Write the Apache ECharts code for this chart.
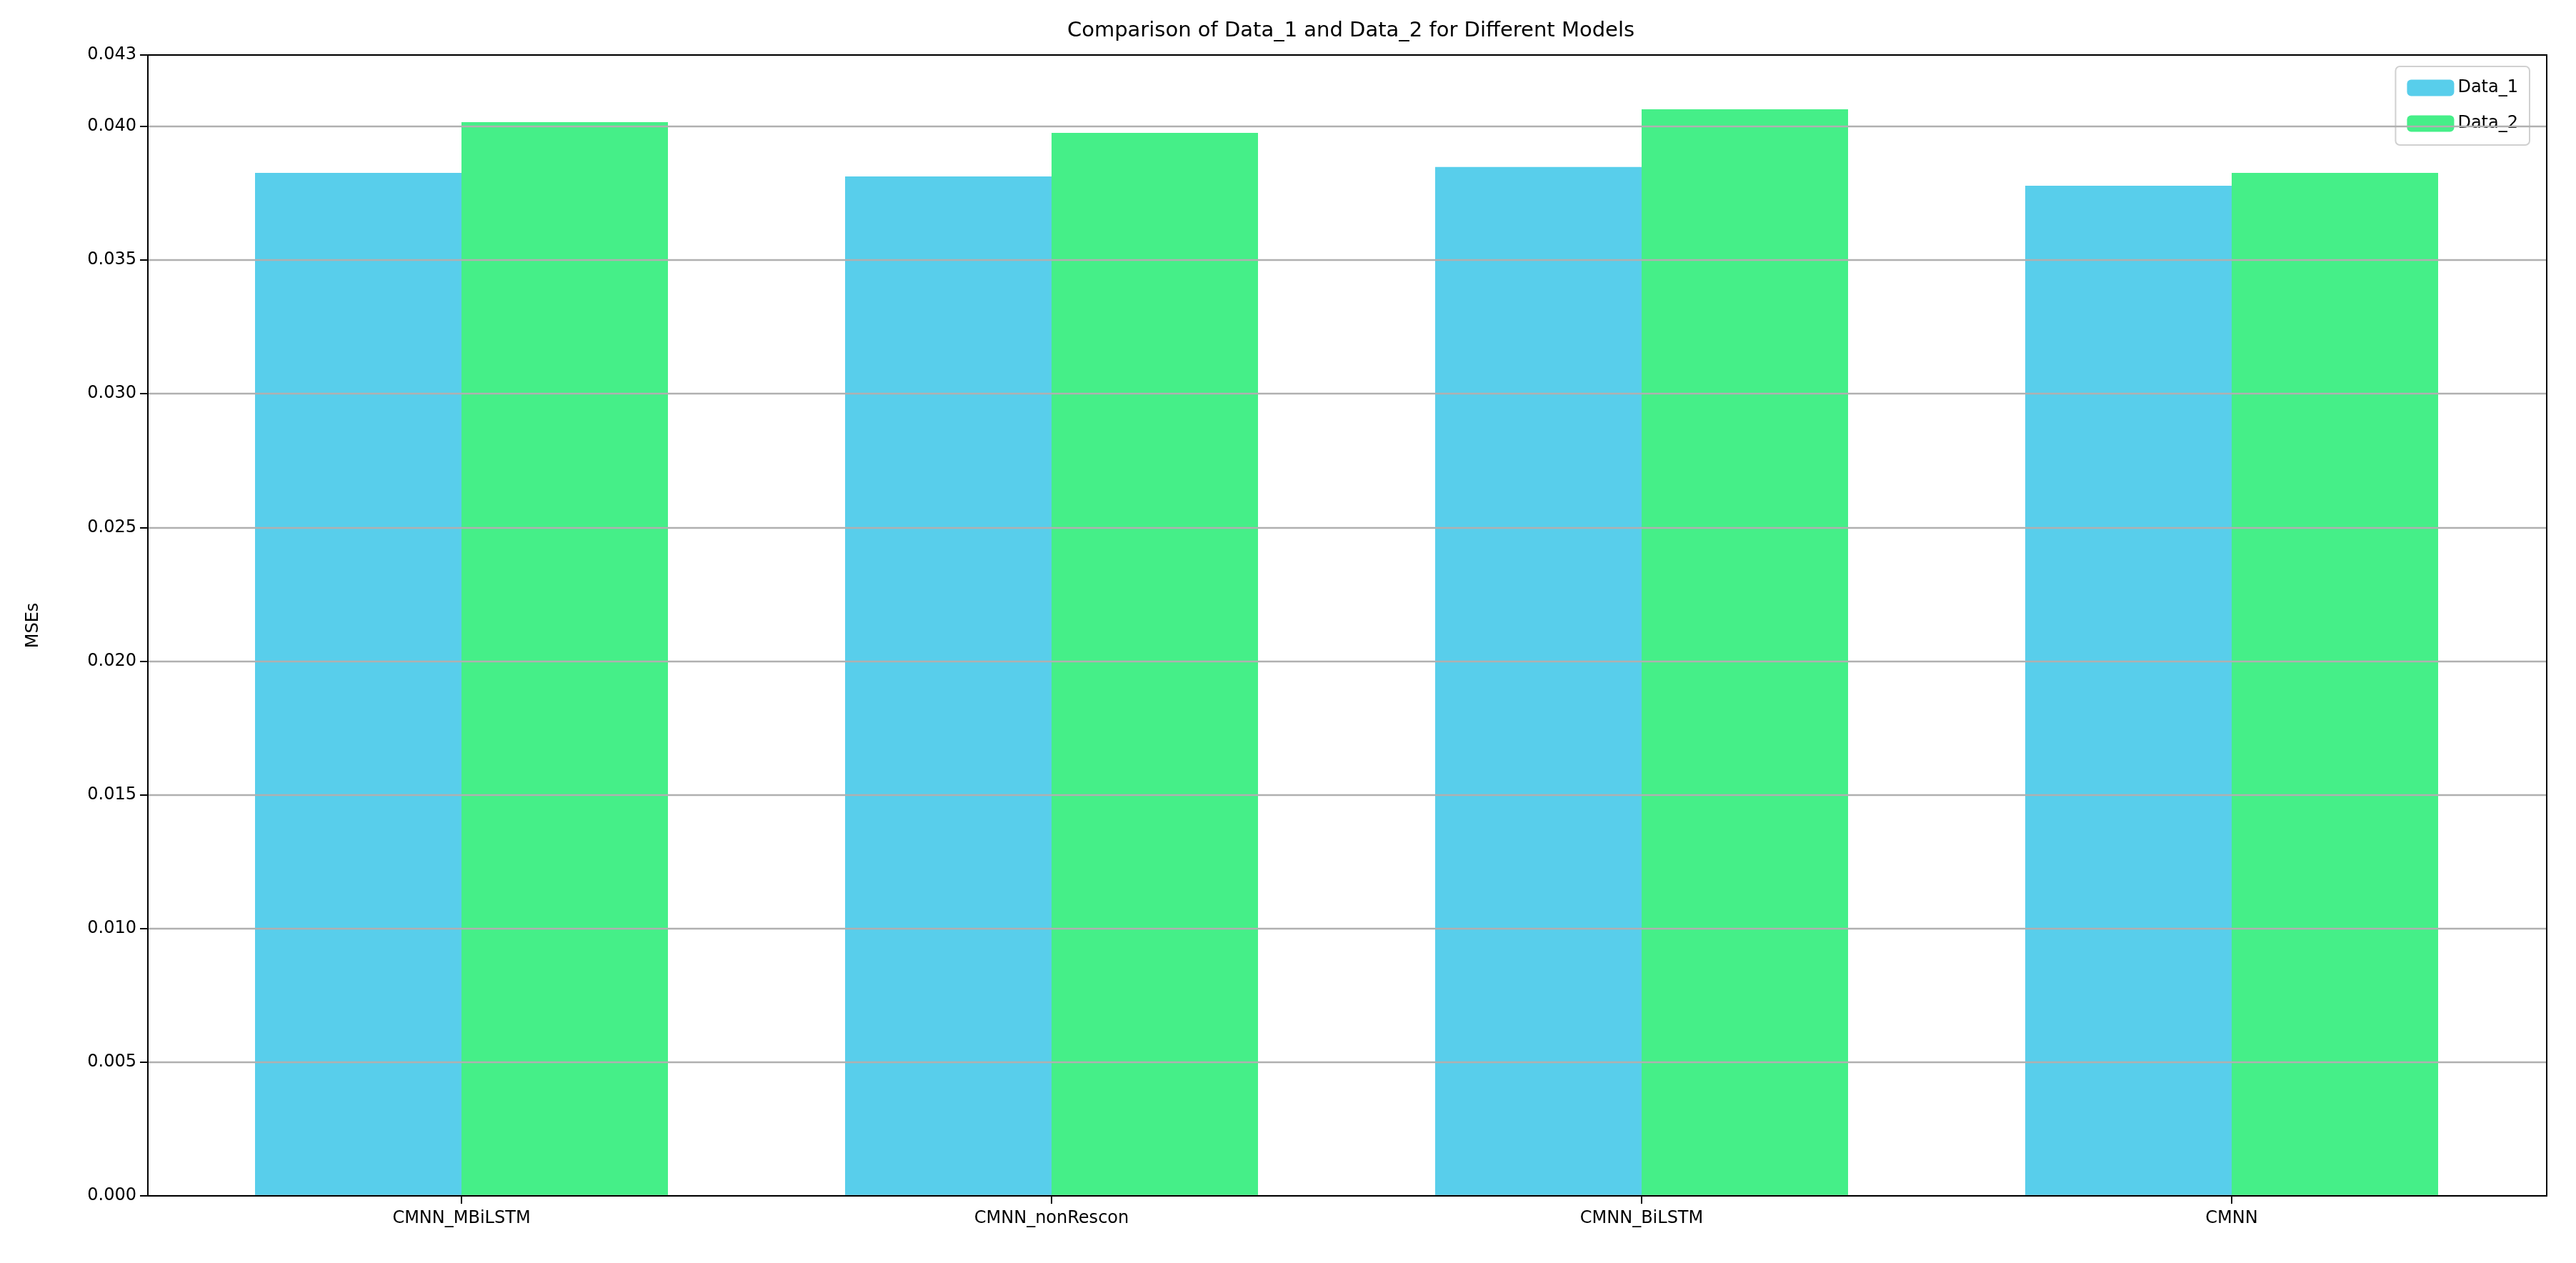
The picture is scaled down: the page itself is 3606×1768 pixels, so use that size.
<!DOCTYPE html>
<html>
<head>
<meta charset="utf-8">
<script src="https://cdn.jsdelivr.net/npm/echarts@6/dist/echarts.min.js"></script>
<style>
html,body{margin:0;padding:0;background:#fff;}
#chart{width:3606px;height:1768px;}
</style>
</head>
<body>
<div id="chart"></div>
<script>
//类别与数据
const models = ['CMNN_MBiLSTM', 'CMNN_nonRescon', 'CMNN_BiLSTM', 'CMNN'];
const data1 = [0.03826, 0.03813, 0.03848, 0.03778];
const data2 = [0.04016, 0.03976, 0.04064, 0.03826];
const yMax = 0.04267;

const font = 'DejaVu Sans';
let chart = echarts.init(document.getElementById('chart'));

let option = {
    animation: false,
    textStyle: { fontFamily: font },
    title: {
        text: 'Comparison of Data_1 and Data_2 for Different Models',
        left: 1886, top: 24, textAlign: 'center',
        textStyle: { fontFamily: font, fontSize: 29, fontWeight: 'normal', color: '#000' }
    },
    legend: {
        data: ['Data_1', 'Data_2'],
        orient: 'vertical',
        right: 65, top: 93,
        itemWidth: 66, itemHeight: 23, itemGap: 26,
        padding: [18, 16, 18, 16],
        borderColor: '#d0d0d0', borderWidth: 2, borderRadius: 6,
        backgroundColor: 'rgba(255,255,255,0.8)',
        textStyle: { fontFamily: font, fontSize: 24, color: '#000' }
    },
    grid: [
        { left: 207, right: 41, top: 77, bottom: 94, show: true, borderColor: '#000', borderWidth: 2, backgroundColor: 'transparent', z: 20 },
        { left: 233, right: 69, top: 77, bottom: 94 }
    ],
    xAxis: [
        { gridIndex: 0, type: 'category', data: models, show: false },
        {
            gridIndex: 1, type: 'category', data: models,
            axisLine: { show: false },
            axisTick: { show: true, alignWithLabel: true, length: 11, lineStyle: { color: '#000', width: 2 } },
            axisLabel: { fontFamily: font, fontSize: 24, color: '#000', margin: 20 }
        }
    ],
    yAxis: [
        {
            gridIndex: 0, type: 'value', min: 0, max: yMax, interval: 0.005, z: 10,
            name: 'MSEs', nameLocation: 'middle', nameGap: 148,
            nameTextStyle: { fontFamily: font, fontSize: 24, color: '#000' },
            axisLine: { show: false },
            axisTick: { show: true, length: 11, lineStyle: { color: '#000', width: 2 } },
            axisLabel: {
                fontFamily: font, fontSize: 24, color: '#000', margin: 16,
                formatter: function (v) { return v.toFixed(3); }
            },
            splitLine: { show: true, lineStyle: { color: '#b0b0b0', width: 2.3 } }
        },
        { gridIndex: 1, type: 'value', min: 0, max: yMax, show: false }
    ],
    series: [
        {
            name: 'Data_1', type: 'bar', xAxisIndex: 1, yAxisIndex: 1,
            data: data1, barWidth: 289, barGap: '0%', z: 2,
            itemStyle: { color: '#58CEEB' }
        },
        {
            name: 'Data_2', type: 'bar', xAxisIndex: 1, yAxisIndex: 1,
            data: data2, barWidth: 289, barGap: '0%', z: 2,
            itemStyle: { color: '#45EF88' }
        }
    ]
};
chart.setOption(option);
</script>
</body>
</html>
